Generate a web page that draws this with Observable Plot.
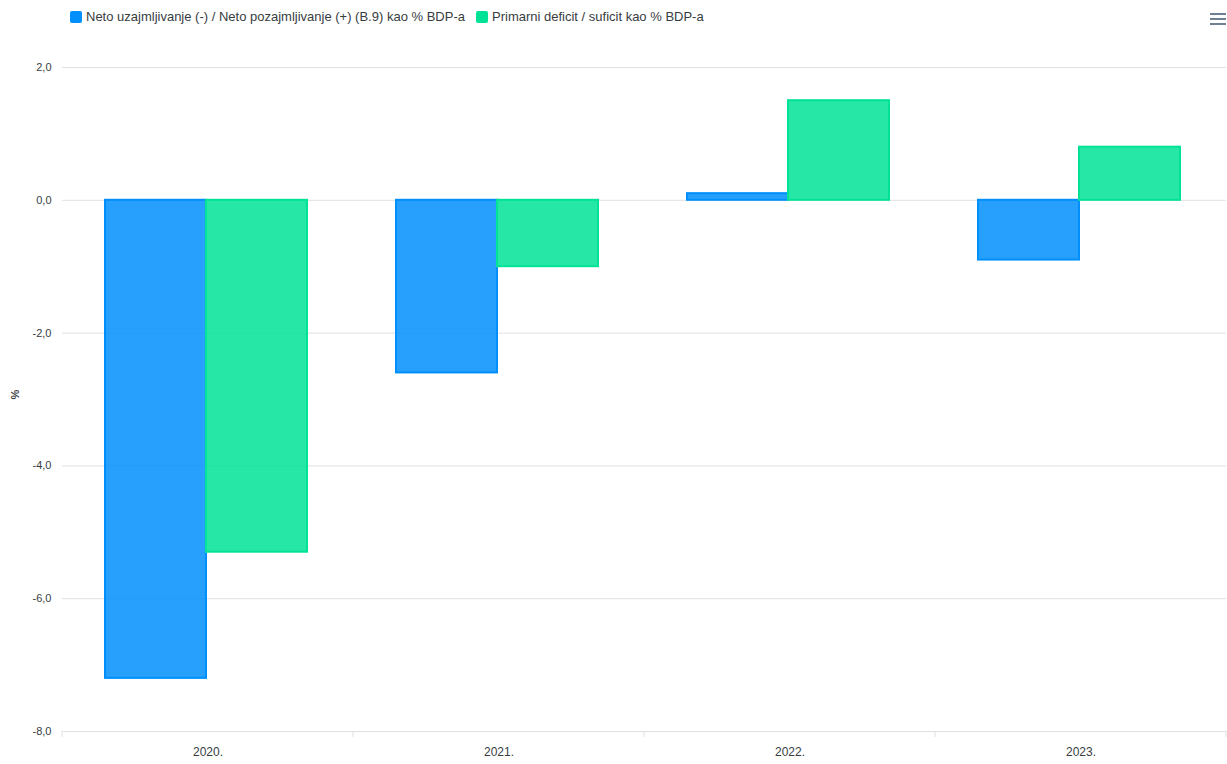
<!DOCTYPE html>
<html>
<head>
<meta charset="utf-8">
<script src="https://cdn.jsdelivr.net/npm/d3@7"></script>
<script src="https://cdn.jsdelivr.net/npm/@observablehq/plot@0.6"></script>
<style>
  html, body { margin: 0; padding: 0; background: #fff; }
  body { width: 1227px; height: 764px; overflow: hidden; font-family: "Liberation Sans", Arial, Helvetica, sans-serif; color: #373d3f; }
  #legend { position: relative; height: 40px; }
  .item { position: absolute; top: 9px; display: flex; align-items: center; font-size: 13px; white-space: nowrap; }
  .marker { width: 12px; height: 12px; border-radius: 2px; margin-right: 4px; }
  #menu { position: absolute; right: 1px; top: 13px; width: 16px; }
  #menu div { height: 2px; background: #6e8192; margin-bottom: 3px; }
  g[aria-label="y-axis label"] text { font-weight: 600; }
</style>
</head>
<body>
<div id="legend"></div>
<div id="chart"></div>
<script>
const years = ["2020.", "2021.", "2022.", "2023."];
const seriesNames = [
  "Neto uzajmljivanje (-) / Neto pozajmljivanje (+) (B.9) kao % BDP-a",
  "Primarni deficit / suficit kao % BDP-a"
];
const netoValues = [-7.2, -2.6, 0.1, -0.9];
const primarniValues = [-5.3, -1.0, 1.5, 0.8];
const seriesColors = ["#008FFB", "#00E396"];
const yTicks = [2, 0, -2, -4, -6, -8];
const gridTicks = [2, 0, -2, -4, -6];

const table = [];
years.forEach((y, i) => {
  table.push({year: y, series: seriesNames[0], value: netoValues[i]});
  table.push({year: y, series: seriesNames[1], value: primarniValues[i]});
});

// legend
const legend = document.getElementById("legend");
const lefts = [70, 476];
seriesNames.forEach((name, i) => {
  const it = document.createElement("div");
  it.className = "item";
  it.style.left = lefts[i] + "px";
  it.innerHTML = `<span class="marker" style="background:${seriesColors[i]}"></span><span>${name}</span>`;
  legend.appendChild(it);
});
const menu = document.createElement("div");
menu.id = "menu";
menu.innerHTML = "<div></div><div></div><div></div>";
legend.appendChild(menu);

const fmt = d => d.toFixed(1).replace(".", ",");

const plot = Plot.plot({
  width: 1227,
  height: 724,
  marginLeft: 62,
  marginRight: 1,
  marginTop: 27,
  marginBottom: 33,
  style: {fontFamily: '"Liberation Sans", Arial, Helvetica, sans-serif', fontSize: "11px", color: "#373d3f", background: "#fff"},
  fx: {domain: years, padding: 0, label: null, axis: null},
  x: {domain: seriesNames, paddingInner: 0, paddingOuter: 0.44, align: 0.48, axis: null},
  y: {domain: [-8, 2]},
  color: {domain: seriesNames, range: seriesColors},
  marks: [
    Plot.ruleY(gridTicks, {stroke: "#e0e0e0", strokeWidth: 1}),
    Plot.ruleY([-8], {stroke: "#e0e0e0", strokeWidth: 1}),
    Plot.barY(table, {fx: "year", x: "series", y: "value", fill: "series", fillOpacity: 0.85, stroke: "series", strokeWidth: 2}),
    Plot.axisY({ticks: yTicks, tickSize: 0, tickPadding: 11, tickFormat: fmt, label: "%", labelAnchor: "center", labelArrow: "none", labelOffset: 51, fill: "#373d3f"}),
    Plot.axisFx({anchor: "bottom", tickSize: 0, tickPadding: 16, fontSize: 12, label: null, fill: "#373d3f"})
  ]
});

// nudge the y-axis title up slightly, as in the reference
const lab = d3.select(plot).select('g[aria-label="y-axis label"]');
lab.attr("transform", ((lab.attr("transform") || "") + " translate(0,-5)").trim());

// boundary ticks on the category axis, positioned from the fx scale
const fx = plot.scale("fx");
const yS = plot.scale("y");
const y0 = yS.apply(-8);
const bounds = years.map(y => fx.apply(y)).concat([fx.apply(years[years.length - 1]) + fx.bandwidth]);
d3.select(plot).append("g").attr("aria-label", "x-ticks")
  .selectAll("line").data(bounds).join("line")
  .attr("x1", d => d).attr("x2", d => d)
  .attr("y1", y0).attr("y2", y0 + 6)
  .attr("stroke", "#e0e0e0");

document.getElementById("chart").appendChild(plot);
</script>
</body>
</html>
